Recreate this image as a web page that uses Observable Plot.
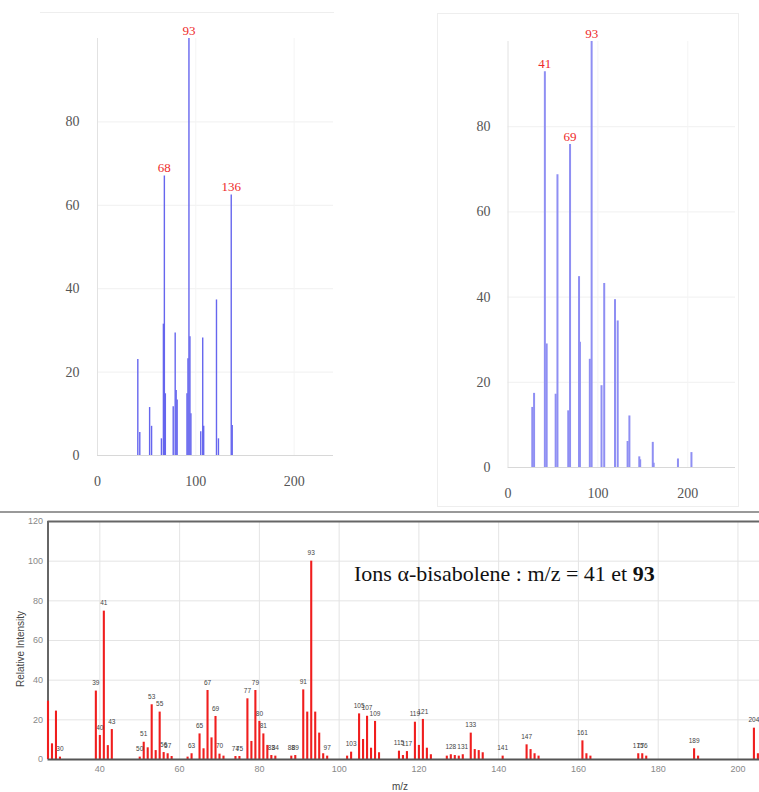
<!DOCTYPE html>
<html><head><meta charset="utf-8">
<script src="https://cdn.jsdelivr.net/npm/d3@7"></script>
<script src="https://cdn.jsdelivr.net/npm/@observablehq/plot@0.6"></script>
<style>
body{margin:0;background:#fff;width:759px;height:792px;overflow:hidden;position:relative}
.abs{position:absolute}
svg{overflow:visible}
</style></head><body>
<div class="abs" style="left:40px;top:12px;width:294px;height:0;border-top:1px solid #eee"></div>
<div class="abs" style="left:437px;top:13px;width:300px;height:492px;border:1px solid #eee"></div>
<div id="tl" class="abs" style="left:0;top:0"></div>
<div id="tr" class="abs" style="left:420px;top:0"></div>
<div class="abs" style="left:0;top:511px;width:759px;height:0;border-top:2px solid #999"></div>
<div id="bt" class="abs" style="left:0;top:505px"></div>
<div class="abs" style="left:20px;top:649px;transform:translate(-50%,-50%) rotate(-90deg);font:10px 'Liberation Sans',Arial,sans-serif;color:#444;white-space:nowrap">Relative Intensity</div>
<div class="abs" style="left:400px;top:786px;transform:translate(-50%,-50%);font:10px 'Liberation Sans',Arial,sans-serif;color:#444">m/z</div>
<div class="abs" style="left:354px;top:561px;font:22px 'Liberation Serif',serif;color:#111;white-space:nowrap">Ions α-bisabolene : m/z = 41 et <b>93</b></div>
<script>
// ---- Top-left spectrum (blue) ----
const limMz  = [41,43,53,55,65,67,68,69,77,79,80,81,91,92,93,94,95,105,107,108,121,123,136,137];
const limInt = [23,5.5,11.5,7,4,31.5,67,14.8,11.7,29.4,15.6,13.3,14.8,23.2,100,28.5,10,5.7,28.2,7,37.3,4,62.5,7.2];
const limPeaks = [68,93,136];

// ---- Top-right spectrum (blue) ----
const bisMz  = [27,29,41,43,53,55,67,69,79,80,91,93,104,107,119,122,133,135,146,147,161,162,189,204];
const bisInt = [14.1,17.4,92.9,29,17.2,68.7,13.3,75.8,44.8,29.4,25.4,100,19.2,43.2,39.4,34.4,6.1,12.1,2.5,1.8,5.9,1,2,3.5];
const bisPeaks = [41,69,93];

// ---- Bottom reference spectrum (red) ----
const refMz  = [27,28,29,30,39,40,41,42,43,50,51,52,53,54,55,56,57,58,62,63,65,66,67,68,69,70,71,74,75,77,78,79,80,81,82,83,84,88,89,91,92,93,94,95,96,97,102,103,105,106,107,108,109,110,115,116,117,119,120,121,122,123,127,128,129,130,131,133,134,135,136,141,147,148,149,150,161,162,163,175,176,177,189,190,204,205];
const refInt = [29.4,7.9,24.4,1.2,34.5,12.1,74.8,7,15.1,1.2,8.7,5.9,27.6,4.5,23.9,3.5,2.9,1.5,1.2,2.9,12.9,5.4,34.8,10.9,21.7,2.7,1.7,1.5,1.5,30.6,9.1,34.8,19.2,12.9,7.1,2,1.7,1.7,2,35.1,23.9,100,23.9,13.3,2.9,1.7,1.7,3.7,23,10.1,21.8,5.7,19.2,3.4,4.2,2,4,18.8,7.1,20.2,5.7,2.4,1.7,2.4,2,1.7,2.4,13.3,5,4.5,3.4,1.7,7.4,5,2.9,1.7,9.4,2.9,1.7,2.9,2.9,1.7,5.4,1.7,15.8,2.9];
const refLabels = [30,39,40,41,43,50,51,53,55,56,57,63,65,67,69,70,74,75,77,79,80,81,83,84,88,89,91,93,97,103,105,107,109,115,117,119,121,128,131,133,141,147,161,175,176,189,204];

// ---- Tick labels ----
const topXTicks = [0,100,200];
const topYTicks = [0,20,40,60,80];
const topYGrid = [20,40,60,80];
const topXGrid = [100,200];
const botXTicks = [40,60,80,100,120,140,160,180,200];
const botYTicks = [0,20,40,60,80,100,120];

const toRows = (mz, v) => mz.map((m, i) => ({mz: m, int: v[i]}));
const lim = toRows(limMz, limInt);
const bis = toRows(bisMz, bisInt);
const ref = toRows(refMz, refInt);

const serif = '"Liberation Serif", "Times New Roman", serif';
const sans = '"Liberation Sans", Arial, sans-serif';

function topPanel(rows, peaks, opts) {
  return Plot.plot({
    width: opts.width, height: opts.height,
    marginLeft: opts.ml, marginRight: opts.mr, marginTop: opts.mt, marginBottom: opts.mb,
    style: {fontFamily: serif, fontSize: "14px", color: "#555", background: "transparent", overflow: "visible"},
    x: {domain: [0, opts.xmax], ticks: topXTicks, tickSize: 0, tickPadding: 21, label: null},
    y: {domain: [0, 100], ticks: topYTicks, tickSize: 0, tickPadding: opts.yp, label: null},
    marks: [
      Plot.ruleY(topYGrid, {stroke: "#f0f0f0"}),
      Plot.ruleX(topXGrid, {stroke: "#f4f4f4"}),
      Plot.ruleX([0], {stroke: "#e2e2e2"}),
      Plot.ruleY([0], {stroke: "#d8d8d8"}),
      Plot.ruleX(rows, {x: "mz", y: "int", stroke: opts.color, strokeWidth: opts.sw}),
      Plot.text(rows.filter(d => peaks.includes(d.mz)), {
        x: "mz", y: "int", text: d => String(d.mz), dy: -8,
        fill: "#ee2a2a", fontSize: 13, fontFamily: serif
      })
    ]
  });
}

document.getElementById("tl").appendChild(topPanel(lim, limPeaks,
  {width: 360, height: 500, ml: 97, mr: 27, mt: 38, mb: 45, xmax: 240, yp: 18, color: "#6666ee", sw: 1.4}));
document.getElementById("tr").appendChild(topPanel(bis, bisPeaks,
  {width: 339, height: 510, ml: 87.5, mr: 24, mt: 41, mb: 43, xmax: 253, yp: 17.5, color: "#8f8ff3", sw: 2}));

const bottom = Plot.plot({
  width: 759, height: 287,
  marginLeft: 47.5, marginRight: 0, marginTop: 16, marginBottom: 33,
  style: {fontFamily: sans, fontSize: "9px", color: "#888", background: "transparent", overflow: "visible"},
  x: {domain: [27, 205.4], ticks: botXTicks, tickSize: 0, tickPadding: 6, label: null},
  y: {domain: [0, 120], ticks: botYTicks, tickSize: 0, tickPadding: 5, label: null},
  marks: [
    Plot.ruleY(botYTicks.slice(1, -1), {stroke: "#e4e4e4"}),
    Plot.ruleX(botXTicks, {stroke: "#e4e4e4"}),
    Plot.ruleX([refMz[0]], {stroke: "#666", strokeWidth: 2}),
    Plot.ruleY([botYTicks[botYTicks.length - 1]], {stroke: "#666", strokeWidth: 2}),
    Plot.ruleX(ref, {x: "mz", y: "int", stroke: "#f01e1e", strokeWidth: 2.1}),
    Plot.ruleY([botYTicks[0]], {stroke: "#555", strokeWidth: 2}),
    Plot.text(ref.filter(d => refLabels.includes(d.mz)), {
      x: "mz", y: "int", text: d => String(d.mz), dy: -8,
      fill: "#444", fontSize: 6.5, fontFamily: sans
    })
  ]
});
document.getElementById("bt").appendChild(bottom);
</script>
</body></html>
